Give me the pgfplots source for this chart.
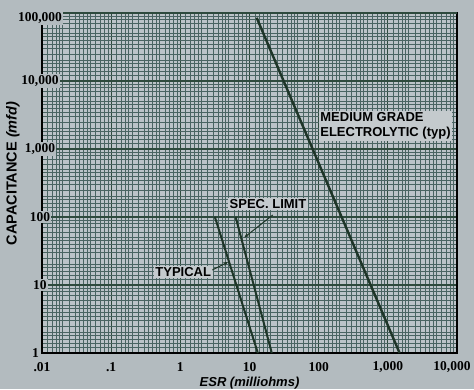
\documentclass[border=0pt]{standalone}
\usepackage{pgfplots}
\pgfplotsset{compat=1.18}
\usepackage{fontspec}
\setmainfont{Liberation Serif}
\newfontfamily\labfont{Liberation Sans}
\usetikzlibrary{arrows.meta}
\definecolor{bgc}{HTML}{B3BBBF}
\definecolor{plotbg}{HTML}{BCC3C8}
\definecolor{gridc}{HTML}{2E4A3D}
\definecolor{gridb}{HTML}{4A6462}
\definecolor{linec}{HTML}{1E3528}
\definecolor{boxc}{HTML}{C4CACD}
\begin{document}
\begin{tikzpicture}
\fill[bgc] (-42pt,-36pt) rectangle (432pt,353pt);
\begin{axis}[
  at={(0,0)}, anchor=south west,
  scale only axis, width=415pt, height=340pt,
  xmode=log, ymode=log,
  xmin=0.01, xmax=10000, ymin=1, ymax=100000,
  axis background/.style={fill=plotbg},
  axis line style={black, line width=1.6pt},
  grid=both,
  major grid style={gridc, line width=1.3pt},
  minor grid style={gridb, line width=0.75pt},
  major tick length=0pt, minor tick length=0pt,
  xtick={0.01,0.1,1,10,100,1000,10000},
  xticklabels={.01,.1,1,10,100,{1,000},{\hspace{-10pt}10,000}},
  ytick={1,10,100,1000,10000},
  yticklabels={{\llap{1\hspace{1pt}}},10,100,{1,000},{10,000}},
  extra y ticks={100000},
  extra y tick labels={100{,}000},
  extra y tick style={yticklabel style={yshift=-5pt}},
  minor xtick={0.012,0.014,0.016,0.018,0.02,0.025,0.03,0.035,0.04,0.045,0.05,0.06,0.07,0.08,0.09,
    0.12,0.14,0.16,0.18,0.2,0.25,0.3,0.35,0.4,0.45,0.5,0.6,0.7,0.8,0.9,
    1.2,1.4,1.6,1.8,2,2.5,3,3.5,4,4.5,5,6,7,8,9,
    12,14,16,18,20,25,30,35,40,45,50,60,70,80,90,
    120,140,160,180,200,250,300,350,400,450,500,600,700,800,900,
    1200,1400,1600,1800,2000,2500,3000,3500,4000,4500,5000,6000,7000,8000,9000},
  minor ytick={1.2,1.4,1.6,1.8,2,2.5,3,3.5,4,4.5,5,6,7,8,9,
    12,14,16,18,20,25,30,35,40,45,50,60,70,80,90,
    120,140,160,180,200,250,300,350,400,450,500,600,700,800,900,
    1200,1400,1600,1800,2000,2500,3000,3500,4000,4500,5000,6000,7000,8000,9000,
    12000,14000,16000,18000,20000,25000,30000,35000,40000,45000,50000,60000,70000,80000,90000},
  xticklabel style={font=\fontsize{13.5}{13.5}\selectfont\bfseries, anchor=center, yshift=-14pt},
  yticklabel style={font=\fontsize{13.5}{13.5}\selectfont\bfseries, anchor=center, xshift=-2pt, fill=bgc, inner sep=1pt},
  xlabel={\labfont\bfseries\itshape ESR (milliohms)},
  ylabel={\labfont\bfseries CAPACITANCE \itshape(mfd)},
  every axis x label/.style={at={(rel axis cs:0.5,0)}, anchor=center, yshift=-30pt, font=\fontsize{13}{13}\selectfont},
  every axis y label/.style={at={(rel axis cs:0,0.528)}, anchor=center, xshift=-29pt, rotate=90, font=\fontsize{14.5}{14.5}\selectfont},
]
\addplot[linec, line width=2.4pt] coordinates {(12.7,85000) (1480,1)};
\addplot[linec, line width=2pt] coordinates {(3.16,100) (13.2,1)};
\addplot[linec, line width=2pt] coordinates {(6.3,100) (21,1)};
\node[anchor=west, fill=boxc, inner sep=1.5pt, align=left, font=\labfont\bfseries\fontsize{13}{15}\selectfont] at (axis cs:100,2200) {MEDIUM GRADE\\ELECTROLYTIC (typ)};
\node[fill=boxc, inner sep=1.5pt, font=\labfont\bfseries\fontsize{13}{15}\selectfont] at (axis cs:18.5,155) {SPEC. LIMIT};
\node[fill=boxc, inner sep=1.5pt, font=\labfont\bfseries\fontsize{13}{15}\selectfont] at (axis cs:1.1,15.5) {TYPICAL};
\draw[linec, line width=1pt, -{Stealth[length=5pt,width=4pt]}] (axis cs:21.7,107) -- (axis cs:8.4,50);
\draw[linec, line width=1pt, -{Stealth[length=5pt,width=4pt]}] (axis cs:2.9,16.6) -- (axis cs:4.9,21.8);
\end{axis}
\pgfresetboundingbox
\useasboundingbox (-42pt,-36pt) rectangle (432pt,353pt);
\end{tikzpicture}
\end{document}
